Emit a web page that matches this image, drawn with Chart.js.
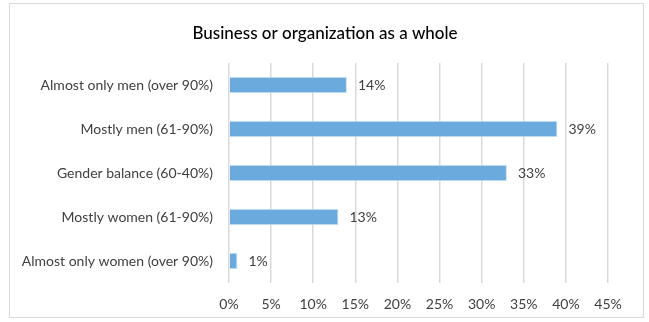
<!DOCTYPE html>
<html>
<head>
<meta charset="utf-8">
<script src="https://cdn.jsdelivr.net/npm/chart.js@4"></script>
<style>
  html, body { margin: 0; padding: 0; background: #fff; }
  #wrap { position: relative; width: 649px; height: 322px; }
  #frame { position: absolute; left: 9px; top: 3px; width: 633px; height: 313px; border: 1px solid #d9d9d9; }
  canvas { position: absolute; left: 0; top: 0; }
</style>
</head>
<body>
<div id="wrap">
  <div id="frame"></div>
  <canvas id="myChart" width="649" height="322"></canvas>
</div>
<script>
var title = 'Business or organization as a whole';
var categories = ['Almost only men (over 90%)', 'Mostly men (61-90%)', 'Gender balance (60-40%)', 'Mostly women (61-90%)', 'Almost only women (over 90%)'];
var shares = [14, 39, 33, 13, 1];
var xTicks = [0, 5, 10, 15, 20, 25, 30, 35, 40, 45];

var labelFont = { family: 'Lato', size: 14 };

// title centred on the whole frame, and the percentage past each bar
var extras = {
    id: 'extras',
    afterDraw: function(chart) {
        var ctx = chart.ctx;
        ctx.save();
        ctx.fillStyle = '#000';
        ctx.font = '500 17px Lato';
        ctx.textAlign = 'center';
        ctx.textBaseline = 'alphabetic';
        ctx.fillText(title, 325, 39);

        var meta = chart.getDatasetMeta(0);
        ctx.font = '14px Lato';
        ctx.fillStyle = '#404040';
        ctx.textAlign = 'left';
        ctx.textBaseline = 'middle';
        meta.data.forEach(function(bar, i) {
            ctx.fillText(shares[i] + '%', bar.x + 11, bar.y);
        });
        ctx.restore();
    }
};

var myChart = document.getElementById('myChart').getContext('2d');
var chart = new Chart(myChart, {
    type: 'bar',
    data: {
        labels: categories,
        datasets: [{
            data: shares,
            backgroundColor: '#6baadc',
            borderColor: '#cfe3f4',
            borderWidth: 1,
            barPercentage: 0.37,
            categoryPercentage: 1
        }]
    },
    options: {
        indexAxis: 'y',
        responsive: false,
        animation: false,
        layout: { padding: { left: 0, right: 41, top: 63, bottom: 0 } },
        plugins: {
            legend: { display: false },
            tooltip: { enabled: false },
            title: { display: false }
        },
        scales: {
            x: {
                min: 0,
                max: 45,
                afterBuildTicks: function(scale) {
                    scale.ticks = xTicks.map(function(v) { return { value: v }; });
                },
                afterFit: function(scale) { scale.height = 39; },
                grid: { color: '#d9d9d9', lineWidth: 1.5, drawTicks: false },
                border: { display: false },
                ticks: {
                    padding: 13,
                    color: '#404040',
                    font: labelFont,
                    callback: function(v) { return v + '%'; }
                }
            },
            y: {
                afterFit: function(scale) { scale.width = 229; },
                grid: { display: false },
                border: { display: false },
                ticks: { padding: 8, color: '#404040', font: labelFont }
            }
        }
    },
    plugins: [extras]
});
</script>
</body>
</html>
